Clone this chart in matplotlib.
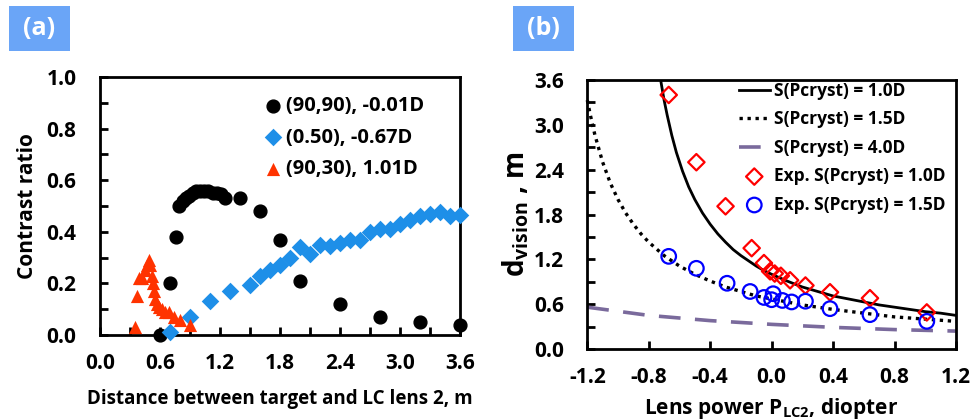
import numpy as np
from matplotlib import pyplot as plt
from matplotlib.patches import Rectangle
from matplotlib.ticker import MultipleLocator

plt.rcParams['font.family'] = ['Open Sans', 'DejaVu Sans']
plt.rcParams['font.weight'] = 'bold'
plt.rcParams['axes.unicode_minus'] = False
plt.rcParams['mathtext.fontset'] = 'custom'
plt.rcParams['mathtext.rm'] = 'Open Sans:bold'
plt.rcParams['mathtext.it'] = 'Open Sans:bold'
plt.rcParams['mathtext.bf'] = 'Open Sans:bold'

# ---- panel (a) data: contrast ratio vs distance ----
black_x = [0.60, 0.70, 0.76, 0.79, 0.83, 0.86, 0.89, 0.93, 0.96, 1.00, 1.04, 1.08,
           1.13, 1.17, 1.21, 1.25, 1.40, 1.60, 1.80, 2.00, 2.40, 2.80, 3.20, 3.60]
black_y = [0.00, 0.20, 0.38, 0.50, 0.52, 0.53, 0.54, 0.55, 0.56, 0.56, 0.56, 0.56,
           0.55, 0.55, 0.545, 0.53, 0.53, 0.48, 0.37, 0.21, 0.12, 0.07, 0.05, 0.04]

blue_x = [0.70, 0.90, 1.10, 1.30, 1.50, 1.60, 1.70, 1.80, 1.90, 2.00, 2.10, 2.20, 2.30,
          2.40, 2.50, 2.60, 2.70, 2.80, 2.90, 3.00, 3.10, 3.20, 3.30, 3.40, 3.50, 3.60]
blue_y = [0.01, 0.07, 0.13, 0.17, 0.195, 0.23, 0.25, 0.27, 0.30, 0.34, 0.315, 0.35, 0.345,
          0.355, 0.37, 0.37, 0.40, 0.41, 0.41, 0.43, 0.445, 0.46, 0.47, 0.475, 0.46, 0.465]

red_x = [0.35, 0.37, 0.39, 0.42, 0.45, 0.47, 0.49, 0.50, 0.52, 0.53, 0.54, 0.55, 0.57,
         0.59, 0.62, 0.65, 0.69, 0.74, 0.80, 0.90]
red_y = [0.03, 0.15, 0.22, 0.22, 0.25, 0.27, 0.29, 0.27, 0.23, 0.20, 0.17, 0.14, 0.12,
         0.11, 0.10, 0.09, 0.09, 0.07, 0.06, 0.04]

labels_a = ['(90,90), -0.01D', '(0.50), -0.67D', '(90,30), 1.01D']

# ---- panel (b) data: vision distance vs lens power ----
s10_p = [-0.72, -0.70, -0.68, -0.65, -0.62, -0.58, -0.54, -0.50, -0.45, -0.40, -0.35,
         -0.30, -0.25, -0.20, -0.15, -0.10, -0.05, 0.0, 0.1, 0.2, 0.3, 0.4, 0.5, 0.6,
         0.7, 0.8, 0.9, 1.0, 1.1, 1.2]
s10_d = [3.57, 3.33, 3.13, 2.86, 2.63, 2.38, 2.17, 2.00, 1.82, 1.67, 1.54,
         1.43, 1.33, 1.25, 1.18, 1.11, 1.05, 1.00, 0.91, 0.83, 0.77, 0.71, 0.67, 0.63,
         0.59, 0.56, 0.53, 0.50, 0.48, 0.45]

s15_p = [-1.2, -1.18, -1.15, -1.1, -1.05, -1.0, -0.95, -0.9, -0.85, -0.8, -0.7, -0.6, -0.5,
         -0.4, -0.3, -0.2, -0.1, 0.0, 0.1, 0.2, 0.4, 0.6, 0.8, 1.0, 1.2]
s15_d = [3.33, 3.13, 2.86, 2.50, 2.22, 2.00, 1.82, 1.67, 1.54, 1.43, 1.25, 1.11, 1.00,
         0.91, 0.83, 0.77, 0.71, 0.67, 0.63, 0.59, 0.53, 0.48, 0.43, 0.40, 0.37]

s40_p = [-1.2, -0.8, -0.4, 0.0, 0.4, 0.8, 1.2]
s40_d = [0.56, 0.45, 0.38, 0.33, 0.29, 0.26, 0.24]

exp10_p = [-0.67, -0.49, -0.30, -0.13, -0.05, -0.01, 0.02, 0.06, 0.12, 0.22, 0.38, 0.64, 1.01]
exp10_d = [3.40, 2.50, 1.91, 1.35, 1.15, 1.04, 1.01, 0.98, 0.92, 0.85, 0.76, 0.68, 0.49]

exp15_p = [-0.67, -0.49, -0.29, -0.14, -0.05, 0.0, 0.01, 0.07, 0.13, 0.22, 0.38, 0.64, 1.01]
exp15_d = [1.24, 1.08, 0.88, 0.77, 0.69, 0.66, 0.74, 0.65, 0.63, 0.64, 0.54, 0.46, 0.37]

labels_b = ['S(Pcryst) = 1.0D', 'S(Pcryst) = 1.5D', 'S(Pcryst) = 4.0D',
            'Exp. S(Pcryst) = 1.0D', 'Exp. S(Pcryst) = 1.5D']

fig = plt.figure(figsize=(9.73, 4.2), dpi=100)
ax1 = fig.add_axes([0.1028, 0.2024, 0.37, 0.6143])
ax2 = fig.add_axes([0.6036, 0.169, 0.3789, 0.6405])

# panel (a)
ax1.scatter(black_x, black_y, s=85, marker='o', color='black', clip_on=False, zorder=3, label=labels_a[0])
ax1.scatter(blue_x, blue_y, s=80, marker='D', color='#1e8fe8', linewidths=0, clip_on=False, zorder=3, label=labels_a[1])
ax1.scatter(red_x, red_y, s=90, marker='^', color='#ff3300', linewidths=0, clip_on=False, zorder=3, label=labels_a[2])
ax1.set_xlim(0, 3.6)
ax1.set_ylim(0, 1.0)
ax1.xaxis.set_major_locator(MultipleLocator(0.6))
ax1.xaxis.set_minor_locator(MultipleLocator(0.3))
ax1.yaxis.set_major_locator(MultipleLocator(0.2))
ax1.yaxis.set_minor_locator(MultipleLocator(0.1))
ax1.xaxis.set_major_formatter('{x:.1f}')
ax1.yaxis.set_major_formatter('{x:.1f}')
ax1.set_xlabel('Distance between target and LC lens 2, m', fontsize=13.5, fontweight='bold', labelpad=11)
ax1.set_ylabel('Contrast ratio', fontsize=15, fontweight='bold', labelpad=6)
ax1.legend(loc='upper left', bbox_to_anchor=(0.453, 0.925), frameon=False, fontsize=14.5,
           handlelength=1.0, handletextpad=0.15, labelspacing=0.56, borderaxespad=0,
           borderpad=0, scatterpoints=1)

# panel (b)
ax2.plot(s10_p, s10_d, color='black', lw=2, label=labels_b[0])
ax2.plot(s15_p, s15_d, color='black', lw=2.4, linestyle=(0, (1, 1.4)), zorder=3,
         clip_on=False, label=labels_b[1])
ax2.plot(s40_p, s40_d, color='#7a6a9c', lw=2.6, linestyle=(0, (6, 4)), label=labels_b[2])
ax2.scatter(exp10_p, exp10_d, s=70, marker='D', facecolors='none', edgecolors='#ff0000',
            linewidths=1.6, zorder=3, clip_on=False, label=labels_b[3])
ax2.scatter(exp15_p, exp15_d, s=110, marker='o', facecolors='none', edgecolors='#0000ff',
            linewidths=1.6, zorder=3, clip_on=False, label=labels_b[4])
ax2.set_xlim(-1.2, 1.2)
ax2.set_ylim(0, 3.6)
ax2.xaxis.set_major_locator(MultipleLocator(0.4))
ax2.yaxis.set_major_locator(MultipleLocator(0.6))
ax2.yaxis.set_minor_locator(MultipleLocator(0.3))
ax2.xaxis.set_major_formatter('{x:.1f}')
ax2.yaxis.set_major_formatter('{x:.1f}')
ax2.set_xlabel(r'Lens power P$_{\mathregular{LC2}}$, diopter', fontsize=15, fontweight='bold', labelpad=6)
ax2.set_ylabel(r'd$_{\mathregular{vision}}$ , m', fontsize=20, fontweight='bold', labelpad=2)
ax2.legend(loc='upper left', bbox_to_anchor=(0.411, 0.993), frameon=False, fontsize=12.5,
           handlelength=1.78, handletextpad=0.23, labelspacing=0.6, borderaxespad=0,
           borderpad=0, scatterpoints=1)

for ax in (ax1, ax2):
    for sp in ax.spines.values():
        sp.set_linewidth(2)
    ax.tick_params(which='both', direction='in', width=2, labelsize=15)
    ax.tick_params(axis='x', pad=13)
    ax.tick_params(axis='y', pad=17)
    ax.tick_params(which='major', length=6)
    ax.tick_params(which='minor', length=6)
    for lbl in ax.get_xticklabels() + ax.get_yticklabels():
        lbl.set_fontweight('bold')

# panel tags
for x0, tag in ((0.0093, '(a)'), (0.527, '(b)')):
    fig.add_artist(Rectangle((x0, 0.879), 0.0627, 0.107, transform=fig.transFigure,
                             facecolor='#6aa5f7', edgecolor='none'))
    fig.text(x0 + 0.0313, 0.932, tag, color='white', fontsize=18, fontweight='bold',
             ha='center', va='center')

plt.savefig('out.png', dpi=100)
